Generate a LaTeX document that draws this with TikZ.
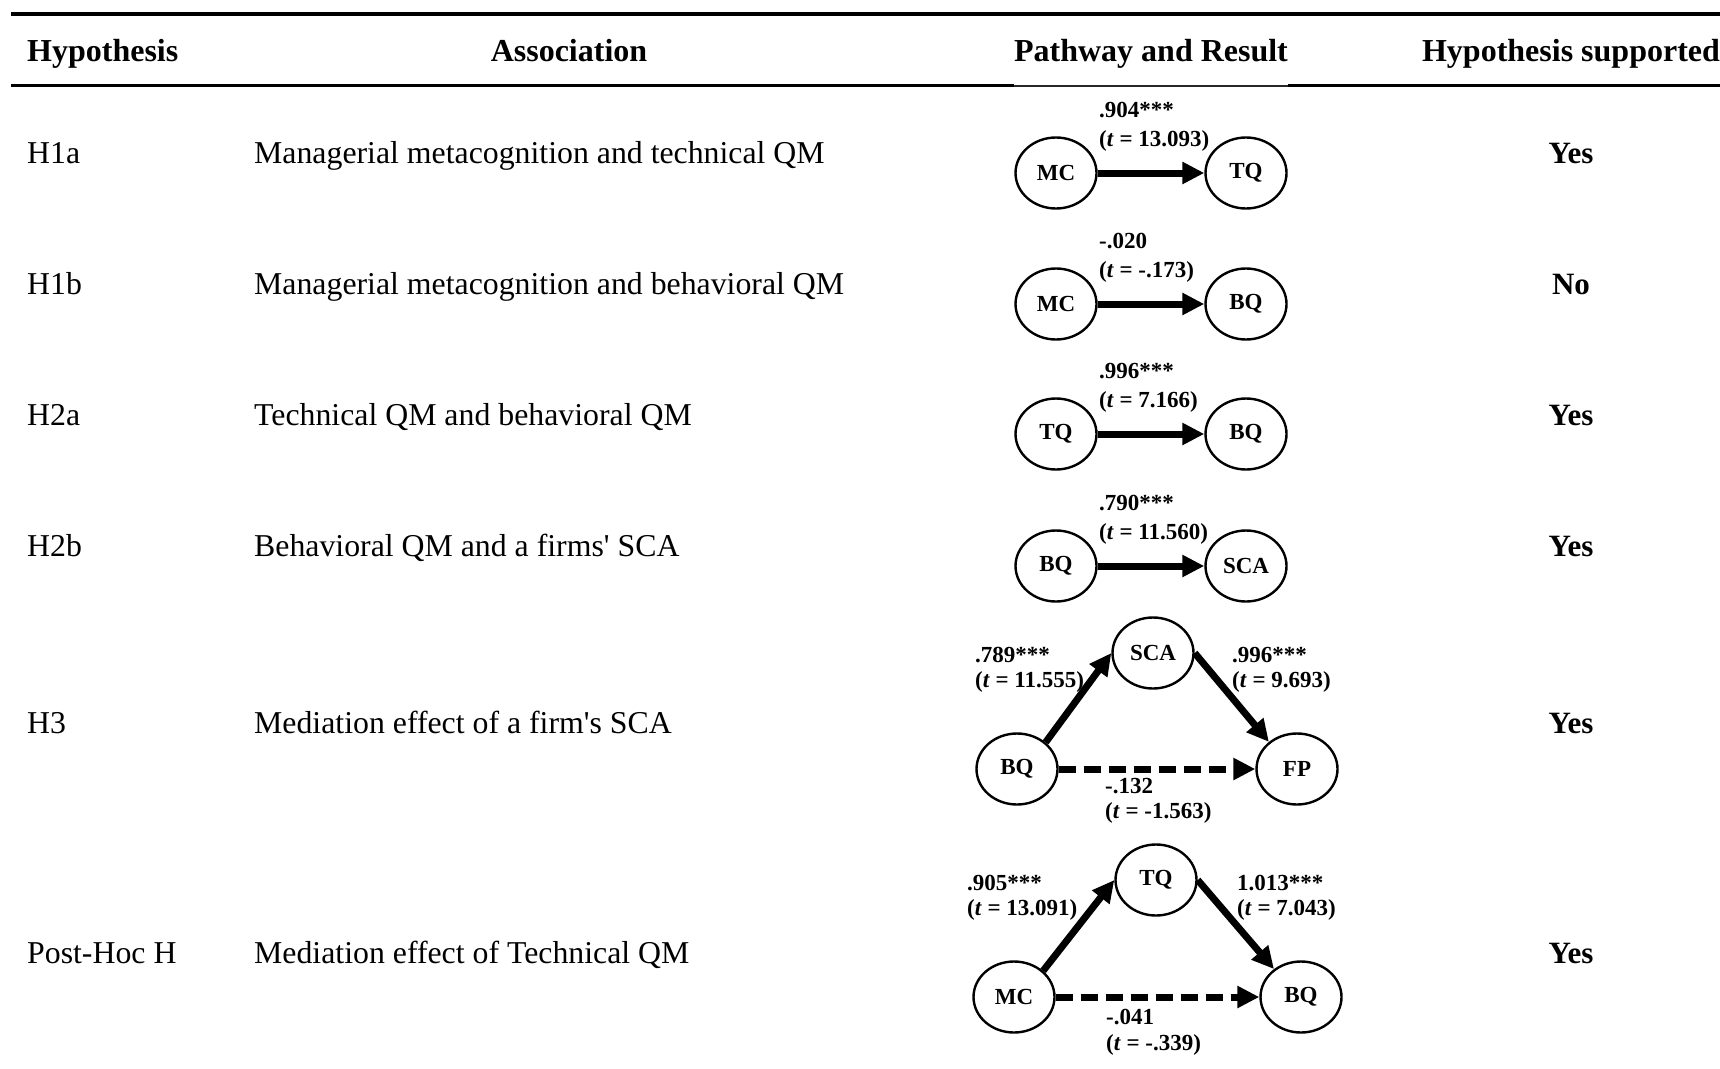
\documentclass[tikz,border=0pt]{standalone}
\usepackage{fontspec}
\setmainfont{Liberation Serif}[Ligatures=TeXOff]
\usetikzlibrary{shapes.geometric,arrows.meta}

\tikzset{
  cell/.style={inner sep=0pt, font=\fontsize{31.8}{36}\selectfont},
  colhead/.style={inner sep=0pt, font=\fontsize{32}{38}\selectfont\bfseries},
  verdict/.style={inner sep=0pt, font=\fontsize{31}{36}\selectfont\bfseries},
  var/.style={ellipse, draw, line width=2.4pt, minimum width=81pt, minimum height=71pt,
              inner sep=0pt, font=\fontsize{23}{27}\selectfont\bfseries},
  coef/.style={inner sep=0pt, anchor=base west, font=\fontsize{23}{27}\selectfont\bfseries},
  link/.style={line width=7pt, -{Triangle[length=22pt,width=21pt]}},
  weaklink/.style={link, dash pattern=on 17pt off 8pt},
}

\begin{document}
\begin{tikzpicture}[x=1pt,y=-1pt]
\useasboundingbox (0,0) rectangle (1720,1068);

% table rules
\coordinate (topL) at (11,14);
\coordinate (topR) at (1720,14);
\draw[line width=4pt] (topL) -- (topR);
\coordinate (midL) at (11,85.5);
\coordinate (midA) at (1014,85.5);
\coordinate (midB) at (1288,85.5);
\coordinate (midR) at (1720,85.5);
\draw[line width=3.3pt] (midL) -- (midA);
\draw[line width=2pt, black!85] (midA) -- (midB);
\draw[line width=3.3pt] (midB) -- (midR);

% column heads
\node[colhead, anchor=base west] (hH) at (27,61) {Hypothesis};
\node[colhead, anchor=base] (hA) at (569,61) {Association};
\node[colhead, anchor=base] (hP) at (1151,61) {Pathway and Result};
\node[colhead, anchor=base] (hS) at (1571,61) {Hypothesis supported};

% hypothesis labels
\node[cell, anchor=base west] (r1) at (27,163) {H1a};
\node[cell, anchor=base west] (r2) at (27,294) {H1b};
\node[cell, anchor=base west] (r3) at (27,425) {H2a};
\node[cell, anchor=base west] (r4) at (27,556) {H2b};
\node[cell, anchor=base west] (r5) at (27,733) {H3};
\node[cell, anchor=base west] (r6) at (27,963) {Post-Hoc H};

% associations
\node[cell, anchor=base west] (a1) at (254,163) {Managerial metacognition and technical QM};
\node[cell, anchor=base west] (a2) at (254,294) {Managerial metacognition and behavioral QM};
\node[cell, anchor=base west] (a3) at (254,425) {Technical QM and behavioral QM};
\node[cell, anchor=base west] (a4) at (254,556) {Behavioral QM and a firms' SCA};
\node[cell, anchor=base west] (a5) at (254,733) {Mediation effect of a firm's SCA};
\node[cell, anchor=base west] (a6) at (254,963) {Mediation effect of Technical QM};

% support
\node[verdict, anchor=base] (s1) at (1571,163) {Yes};
\node[verdict, anchor=base] (s2) at (1571,294) {No};
\node[verdict, anchor=base] (s3) at (1571,425) {Yes};
\node[verdict, anchor=base] (s4) at (1571,556) {Yes};
\node[verdict, anchor=base] (s5) at (1571,733) {Yes};
\node[verdict, anchor=base] (s6) at (1571,963) {Yes};

% H1a
\node[var] (mc1) at (1056,173) {MC};
\node[var] (tq1) at (1246,173) {TQ};
\draw[link] (mc1) -- (tq1);
\node[coef] (c1a) at (1099,117.5) {.904***};
\node[coef] (c1b) at (1099,146.5) {(\textit{t} = 13.093)};

% H1b
\node[var] (mc2) at (1056,304) {MC};
\node[var] (bq2) at (1246,304) {BQ};
\draw[link] (mc2) -- (bq2);
\node[coef] (c2a) at (1099,248.5) {-.020};
\node[coef] (c2b) at (1099,277.5) {(\textit{t} = -.173)};

% H2a
\node[var] (tq3) at (1056,434) {TQ};
\node[var] (bq3) at (1246,434) {BQ};
\draw[link] (tq3) -- (bq3);
\node[coef] (c3a) at (1099,378.5) {.996***};
\node[coef] (c3b) at (1099,407.5) {(\textit{t} = 7.166)};

% H2b
\node[var] (bq4) at (1056,566) {BQ};
\node[var] (sca4) at (1246,566) {SCA};
\draw[link] (bq4) -- (sca4);
\node[coef] (c4a) at (1099,510.5) {.790***};
\node[coef] (c4b) at (1099,539.5) {(\textit{t} = 11.560)};

% H3: mediation through SCA
\node[var] (bq5) at (1017,769) {BQ};
\node[var] (sca5) at (1153,653) {SCA};
\node[var] (fp5) at (1297,769) {FP};
\draw[link] (bq5.43) -- (sca5.west);
\draw[link] (sca5.east) -- (fp5.136);
\draw[weaklink] (bq5.east) -- (fp5.west);
\node[coef] (c5a) at (975,662.5) {.789***};
\node[coef] (c5b) at (975,687.5) {(\textit{t} = 11.555)};
\node[coef] (c5c) at (1232,662.5) {.996***};
\node[coef] (c5d) at (1232,687.5) {(\textit{t} = 9.693)};
\node[coef] (c5e) at (1105,793.5) {-.132};
\node[coef] (c5f) at (1105,818.5) {(\textit{t} = -1.563)};

% Post-hoc: mediation through TQ
\node[var] (mc6) at (1014,997) {MC};
\node[var] (tq6) at (1156,880) {TQ};
\node[var] (bq6) at (1301,997) {BQ};
\draw[link] (mc6.42) -- (tq6.west);
\draw[link] (tq6.east) -- (bq6.134);
\draw[weaklink] (mc6.east) -- (bq6.west);
\node[coef] (c6a) at (967,890.5) {.905***};
\node[coef] (c6b) at (967,915.5) {(\textit{t} = 13.091)};
\node[coef] (c6c) at (1237,890.5) {1.013***};
\node[coef] (c6d) at (1237,915.5) {(\textit{t} = 7.043)};
\node[coef] (c6e) at (1106,1024.5) {-.041};
\node[coef] (c6f) at (1106,1050.5) {(\textit{t} = -.339)};
\end{tikzpicture}
\end{document}
